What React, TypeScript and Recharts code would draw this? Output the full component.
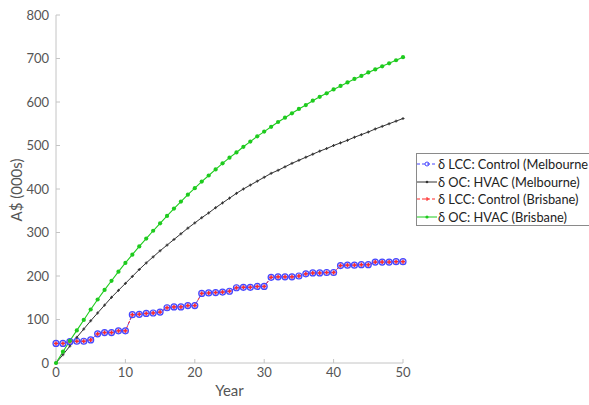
import React from 'react';
import { LineChart, Line, XAxis, YAxis } from 'recharts';

const years = [
  0, 1, 2, 3, 4, 5, 6, 7, 8, 9, 10, 11, 12, 13, 14, 15, 16, 17, 18, 19, 20,
  21, 22, 23, 24, 25, 26, 27, 28, 29, 30, 31, 32, 33, 34, 35, 36, 37, 38, 39, 40,
  41, 42, 43, 44, 45, 46, 47, 48, 49, 50,
];

const lccMelbourne = [
  45, 45, 49, 50, 50, 53, 67, 70, 70, 74, 74,
  111, 112, 114, 115, 117, 127, 129, 129, 132, 132,
  160, 161, 162, 163, 165, 173, 174, 174, 176, 176,
  197, 198, 198, 198, 200, 205, 207, 207, 208, 208,
  224, 225, 225, 226, 226, 232, 232, 232, 233, 233,
];

const ocMelbourne = [
  0, 19, 39, 59, 78, 97, 115, 133, 151, 167, 183,
  199, 215, 230, 244, 258, 271, 284, 297, 310, 322,
  334, 345, 357, 368, 379, 390, 400, 409, 418, 427,
  436, 443, 451, 459, 466, 473, 480, 487, 493, 500,
  506, 512, 519, 525, 531, 538, 544, 550, 556, 562,
];

const lccBrisbane = [
  45, 45, 49, 50, 50, 53, 67, 70, 70, 74, 74,
  111, 112, 114, 115, 117, 127, 129, 129, 132, 132,
  160, 161, 162, 163, 165, 173, 174, 174, 176, 176,
  197, 198, 198, 198, 200, 205, 207, 207, 208, 208,
  224, 225, 225, 226, 226, 232, 232, 232, 233, 233,
];

const ocBrisbane = [
  0, 26, 51, 75, 99, 123, 146, 168, 189, 210, 230,
  249, 268, 286, 304, 321, 338, 355, 371, 387, 402,
  417, 431, 445, 459, 472, 484, 497, 509, 521, 532,
  543, 554, 564, 574, 584, 593, 603, 612, 620, 629,
  637, 645, 653, 660, 668, 675, 682, 689, 696, 703,
];

const xTicks = [0, 10, 20, 30, 40, 50];
const yTicks = [0, 100, 200, 300, 400, 500, 600, 700, 800];

const seriesNames = [
  'δ LCC: Control (Melbourne',
  'δ OC: HVAC (Melbourne)',
  'δ LCC: Control (Brisbane)',
  'δ OC: HVAC (Brisbane)',
];

const data = years.map((y, i) => ({
  year: y,
  lccM: lccMelbourne[i],
  ocM: ocMelbourne[i],
  lccB: lccBrisbane[i],
  ocB: ocBrisbane[i],
}));

const FONT = 'Lato, "Open Sans", sans-serif';
const AXIS_COLOR = '#c4c4c4';
const TICK_TEXT = '#555555';

const BLUE = '#4646ff';
const BLACK = '#333333';
const RED = '#ff2a2a';
const GREEN = '#1ecb1e';

const BlueDot = (props: any) => {
  const { cx, cy, index } = props;
  if (cx == null || cy == null) return <g key={`b${index}`} />;
  return <circle key={`b${index}`} cx={cx} cy={cy} r={3} fill="#9a9aff" fillOpacity={0.5} stroke={BLUE} strokeWidth={1.2} />;
};

const BlackDot = (props: any) => {
  const { cx, cy, index } = props;
  if (cx == null || cy == null) return <g key={`k${index}`} />;
  return (
    <g key={`k${index}`}>
      <line x1={cx - 1.5} y1={cy} x2={cx + 1.5} y2={cy} stroke={BLACK} strokeWidth={1} />
      <line x1={cx} y1={cy - 1.5} x2={cx} y2={cy + 1.5} stroke={BLACK} strokeWidth={1} />
    </g>
  );
};

const RedDot = (props: any) => {
  const { cx, cy, index } = props;
  if (cx == null || cy == null) return <g key={`r${index}`} />;
  return (
    <g key={`r${index}`}>
      <line x1={cx - 2} y1={cy} x2={cx + 2} y2={cy} stroke={RED} strokeWidth={1.4} />
      <line x1={cx} y1={cy - 2} x2={cx} y2={cy + 2} stroke={RED} strokeWidth={1.4} />
    </g>
  );
};

const GreenDot = (props: any) => {
  const { cx, cy, index } = props;
  if (cx == null || cy == null) return <g key={`g${index}`} />;
  return <circle key={`g${index}`} cx={cx} cy={cy} r={2.1} fill={GREEN} stroke="none" />;
};

const legendSwatch = (i: number) => {
  const w = 20;
  const c = 10;
  if (i === 0)
    return (
      <svg width={w} height={10}>
        <line x1={0} y1={5} x2={w} y2={5} stroke={BLUE} strokeDasharray="3 2" strokeWidth={1} />
        <circle cx={c} cy={5} r={2} fill="none" stroke={BLUE} strokeWidth={1} />
      </svg>
    );
  if (i === 1)
    return (
      <svg width={w} height={10}>
        <line x1={0} y1={5} x2={w} y2={5} stroke={BLACK} strokeWidth={1} />
        <circle cx={c} cy={5} r={1.3} fill={BLACK} />
      </svg>
    );
  if (i === 2)
    return (
      <svg width={w} height={10}>
        <line x1={0} y1={5} x2={w} y2={5} stroke={RED} strokeDasharray="3 2" strokeWidth={1} />
        <line x1={c - 2} y1={5} x2={c + 2} y2={5} stroke={RED} strokeWidth={1} />
        <line x1={c} y1={3} x2={c} y2={7} stroke={RED} strokeWidth={1} />
      </svg>
    );
  return (
    <svg width={w} height={10}>
      <line x1={0} y1={5} x2={w} y2={5} stroke={GREEN} strokeWidth={1} />
      <circle cx={c} cy={5} r={1.6} fill={GREEN} />
    </svg>
  );
};

const LegendBox = () => (
  <div
    style={{
      position: 'absolute',
      left: 416,
      top: 153,
      border: '1px solid #8a8a8a',
      borderRight: 'none',
      background: '#fff',
      width: 173,
      height: 73,
      boxSizing: 'border-box',
      paddingTop: 1,
      fontFamily: FONT,
      fontSize: 12.8,
      color: '#222',
    }}
  >
    {seriesNames.map((n, i) => (
      <div key={n} style={{ display: 'flex', alignItems: 'center', height: 17.7, whiteSpace: 'nowrap' }}>
        <span style={{ display: 'inline-block', width: 20, height: 10, lineHeight: 0 }}>{legendSwatch(i)}</span>
        <span style={{ marginLeft: 1 }}>{n}</span>
      </div>
    ))}
  </div>
);

export default function App() {
  return (
    <div style={{ position: 'absolute', left: 0, top: 0, width: 589, height: 405, overflow: 'hidden', background: '#fff' }}>
      <LineChart width={589} height={405} data={data} margin={{ top: 15, right: 186, left: 16, bottom: 0 }}>
        <XAxis
          dataKey="year"
          type="number"
          domain={[0, 50]}
          ticks={xTicks}
          height={42}
          stroke={AXIS_COLOR}
          tickSize={-4}
          tickMargin={9}
          tick={{ fill: TICK_TEXT, fontSize: 13, fontFamily: FONT }}
          label={{
            content: () => (
              <text x={229.5} y={396} textAnchor="middle" fill={TICK_TEXT} fontSize={15} fontFamily={FONT}>
                Year
              </text>
            ),
          }}
        />
        <XAxis
          xAxisId="top"
          orientation="top"
          dataKey="year"
          type="number"
          domain={[0, 50]}
          ticks={xTicks}
          height={0}
          stroke={AXIS_COLOR}
          tickSize={-4}
          tickFormatter={() => ''}
        />
        <YAxis
          type="number"
          domain={[0, 800]}
          ticks={yTicks}
          width={40}
          stroke={AXIS_COLOR}
          tickSize={-4}
          tickMargin={11}
          tick={{ fill: TICK_TEXT, fontSize: 13, fontFamily: FONT }}
          label={{
            content: () => (
              <text
                x={22}
                y={190}
                textAnchor="middle"
                fill={TICK_TEXT}
                fontSize={15}
                fontFamily={FONT}
                transform="rotate(-90 22 190)"
              >
                A$ (000s)
              </text>
            ),
          }}
        />
        <YAxis
          yAxisId="right"
          orientation="right"
          type="number"
          domain={[0, 800]}
          ticks={yTicks}
          width={0}
          stroke={AXIS_COLOR}
          tickSize={-4}
          tickFormatter={() => ''}
        />
        <Line dataKey="lccM" stroke={BLUE} strokeWidth={1} strokeDasharray="4 2" dot={BlueDot} isAnimationActive={false} />
        <Line dataKey="ocM" stroke={BLACK} strokeWidth={1} dot={BlackDot} isAnimationActive={false} />
        <Line dataKey="lccB" stroke={RED} strokeWidth={1} strokeDasharray="3 2" dot={RedDot} isAnimationActive={false} />
        <Line dataKey="ocB" stroke={GREEN} strokeWidth={1.1} dot={GreenDot} isAnimationActive={false} />
      </LineChart>
      <LegendBox />
    </div>
  );
}
